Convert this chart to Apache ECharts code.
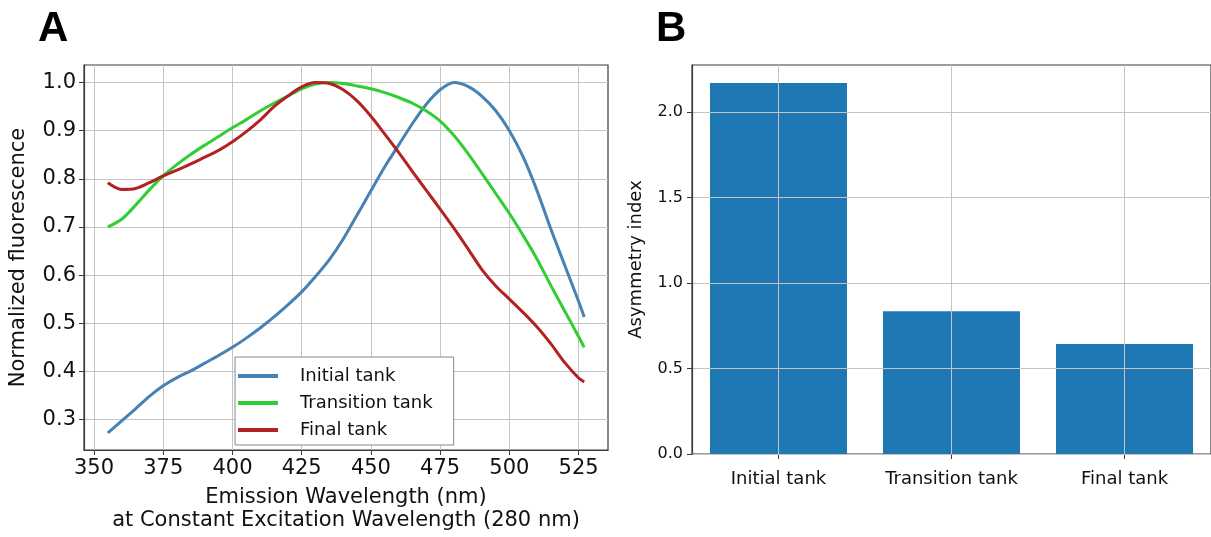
<!DOCTYPE html>
<html lang="en">
<head>
<meta charset="UTF-8">
<title>fluorescence</title>
<script src="https://cdn.jsdelivr.net/npm/echarts@6/dist/echarts.min.js"></script>
<style>
html, body { margin: 0; padding: 0; background: #fff; }
#main { width: 1211px; height: 537px; }
</style>
</head>
<body>
<div id="main"></div>
<script type="text/javascript">
// panel A: emission spectra (normalized)
var wavelength = [355, 360, 365, 370, 375, 380, 385, 390, 395, 400, 405, 410, 415, 420, 425, 430, 435, 440,
    445, 450, 455, 460, 465, 470, 475, 480, 485, 490, 495, 500, 505, 510, 515, 520, 525, 527];
var initialTank = [0.272, 0.297, 0.322, 0.348, 0.370, 0.387, 0.401, 0.417, 0.433, 0.450, 0.469, 0.490, 0.513,
    0.538, 0.565, 0.597, 0.632, 0.675, 0.725, 0.775, 0.825, 0.870, 0.915, 0.955, 0.985, 1.000, 0.992, 0.972,
    0.942, 0.900, 0.845, 0.775, 0.695, 0.620, 0.545, 0.513];
var transitionTank = [0.700, 0.716, 0.745, 0.777, 0.806, 0.830, 0.851, 0.870, 0.888, 0.906, 0.923, 0.941, 0.957,
    0.972, 0.987, 0.997, 1.000, 0.998, 0.993, 0.987, 0.979, 0.969, 0.957, 0.941, 0.920, 0.890, 0.853, 0.812,
    0.770, 0.728, 0.682, 0.633, 0.578, 0.525, 0.472, 0.450];
var finalTank = [0.792, 0.778, 0.780, 0.792, 0.806, 0.818, 0.831, 0.845, 0.859, 0.877, 0.898, 0.922, 0.950,
    0.972, 0.991, 1.000, 0.998, 0.985, 0.962, 0.930, 0.893, 0.855, 0.815, 0.776, 0.737, 0.697, 0.655, 0.612,
    0.578, 0.550, 0.522, 0.492, 0.457, 0.418, 0.386, 0.378];
var xTicksA = [350, 375, 400, 425, 450, 475, 500, 525];
var yTicksA = [0.3, 0.4, 0.5, 0.6, 0.7, 0.8, 0.9, 1.0];

// panel B: asymmetry index
var tanks = ['Initial tank', 'Transition tank', 'Final tank'];
var asymmetry = [2.169, 0.834, 0.643];
var yTicksB = [0, 0.5, 1.0, 1.5, 2.0];

var FONT = 'DejaVu Sans';
var GRID_COLOR = '#c4c4c4';
var FRAME = '#3a3a3a';

function pairs(xs, ys) {
    var out = [];
    for (var i = 0; i < xs.length; i++) out.push([xs[i], ys[i]]);
    return out;
}

function lineSeries(name, ys, color) {
    return {
        name: name,
        type: 'line',
        xAxisIndex: 0,
        yAxisIndex: 0,
        data: pairs(wavelength, ys),
        smooth: 0.3,
        showSymbol: false,
        color: color,
        lineStyle: { width: 3, color: color },
        z: 3
    };
}

var myChart = echarts.init(document.getElementById('main'));

var option = {
    animation: false,
    backgroundColor: '#fff',
    textStyle: { fontFamily: FONT },
    graphic: [
        { type: 'text', left: 38, top: 8, style: { text: 'A', font: 'bold 42px "Liberation Sans"', fill: '#000' } },
        { type: 'text', left: 656, top: 8, style: { text: 'B', font: 'bold 42px "Liberation Sans"', fill: '#000' } }
    ],
    grid: [
        { left: 84, right: 603, top: 65, bottom: 83, show: true, borderColor: FRAME, borderWidth: 1.2, backgroundColor: 'transparent' },
        { left: 692, right: -5, top: 65, bottom: 83, show: true, borderColor: FRAME, borderWidth: 1.2, backgroundColor: 'transparent' }
    ],
    legend: {
        data: ['Initial tank', 'Transition tank', 'Final tank'],
        orient: 'vertical',
        left: 235,
        top: 357,
        icon: 'rect',
        itemWidth: 40,
        itemHeight: 4,
        itemGap: 7,
        padding: [9, 21, 5, 3],
        borderColor: '#888',
        borderWidth: 1,
        backgroundColor: '#fff',
        textStyle: { fontFamily: FONT, fontSize: 18, color: '#111', lineHeight: 20, padding: [0, 0, 0, 17] },
        z: 10
    },
    xAxis: [
        {
            type: 'value',
            gridIndex: 0,
            min: 346.4,
            max: 535.6,
            name: 'Emission Wavelength (nm)\nat Constant Excitation Wavelength (280 nm)',
            nameLocation: 'middle',
            nameGap: 36,
            nameTextStyle: { fontFamily: FONT, fontSize: 21, color: '#111', lineHeight: 23 },
            axisLine: { show: true, lineStyle: { color: FRAME, width: 1.2 } },
            axisTick: { show: true, length: 5, customValues: xTicksA, lineStyle: { color: FRAME } },
            axisLabel: { customValues: xTicksA, fontFamily: FONT, fontSize: 21, color: '#111', margin: 8 },
            splitLine: { show: true, lineStyle: { color: GRID_COLOR, width: 1 } }
        },
        {
            type: 'category',
            gridIndex: 1,
            data: tanks,
            axisLine: { show: true, lineStyle: { color: FRAME, width: 1.2 } },
            axisTick: { show: true, alignWithLabel: true, length: 5, lineStyle: { color: FRAME } },
            axisLabel: { fontFamily: FONT, fontSize: 18, color: '#111', margin: 16 },
            splitLine: { show: false }
        }
    ],
    yAxis: [
        {
            type: 'value',
            gridIndex: 0,
            min: 0.2365,
            max: 1.0365,
            name: 'Normalized fluorescence',
            nameLocation: 'middle',
            nameGap: 55,
            nameTextStyle: { fontFamily: FONT, fontSize: 21, color: '#111' },
            axisLine: { show: true, lineStyle: { color: FRAME, width: 1.2 } },
            axisTick: { show: true, length: 5, customValues: yTicksA, lineStyle: { color: FRAME } },
            axisLabel: {
                customValues: yTicksA, fontFamily: FONT, fontSize: 21, color: '#111', margin: 8,
                formatter: function (v) { return v.toFixed(1); }
            },
            splitLine: { show: true, lineStyle: { color: GRID_COLOR, width: 1 } }
        },
        {
            type: 'value',
            gridIndex: 1,
            min: 0,
            max: 2.274,
            z: 3,
            name: 'Asymmetry index',
            nameLocation: 'middle',
            nameGap: 47,
            nameTextStyle: { fontFamily: FONT, fontSize: 18, color: '#111' },
            axisLine: { show: true, lineStyle: { color: FRAME, width: 1.2 } },
            axisTick: { show: true, length: 5, customValues: yTicksB, lineStyle: { color: FRAME } },
            axisLabel: {
                customValues: yTicksB, fontFamily: FONT, fontSize: 16, color: '#111', margin: 9,
                formatter: function (v) { return v.toFixed(1); }
            },
            splitLine: { show: true, lineStyle: { color: GRID_COLOR, width: 1 } }
        }
    ],
    series: [
        lineSeries('Initial tank', initialTank, '#4682b4'),
        lineSeries('Transition tank', transitionTank, '#32cd32'),
        lineSeries('Final tank', finalTank, '#b22222'),
        {
            name: 'Asymmetry index',
            type: 'bar',
            xAxisIndex: 1,
            yAxisIndex: 1,
            data: asymmetry,
            barWidth: 137,
            itemStyle: { color: '#1f77b4' },
            z: 2,
            markLine: {
                silent: true,
                symbol: 'none',
                label: { show: false },
                lineStyle: { color: GRID_COLOR, width: 1, type: 'solid' },
                data: tanks.map(function (t) { return { xAxis: t }; })
            }
        }
    ]
};

myChart.setOption(option);
</script>
</body>
</html>
